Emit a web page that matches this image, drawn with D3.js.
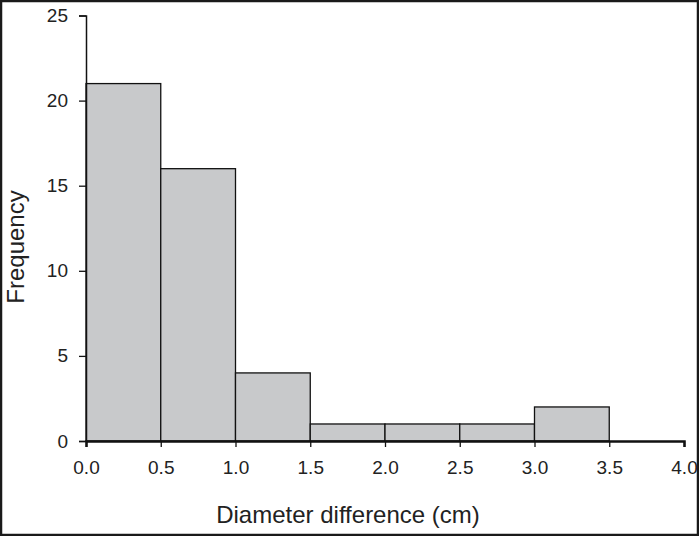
<!DOCTYPE html>
<html><head><meta charset="utf-8">
<script src="https://cdn.jsdelivr.net/npm/d3@7"></script>
<style>body{margin:0;background:#fff}svg{display:block}</style>
</head><body>
<script>
const binStarts = [0.0, 0.5, 1.0, 1.5, 2.0, 2.5, 3.0];
const binWidth = 0.5;
const frequencies = [21, 16, 4, 1, 1, 1, 2];
const xTicks = [0.0, 0.5, 1.0, 1.5, 2.0, 2.5, 3.0, 3.5, 4.0];
const yTicks = [0, 5, 10, 15, 20, 25];

const W = 699, H = 536;
const svg = d3.select("body").append("svg").attr("width", W).attr("height", H);
svg.append("rect").attr("x", 1).attr("y", 1).attr("width", W - 2).attr("height", H - 2)
  .attr("fill", "#fff").attr("stroke", "#1a1a1a").attr("stroke-width", 2.5);

const x = d3.scaleLinear().domain([0, 4]).range([86, 684]);
const y = d3.scaleLinear().domain([0, 25]).range([441, 15.5]);
const font = "'Liberation Sans', Arial, sans-serif";

svg.append("g").selectAll("rect").data(binStarts).join("rect")
  .attr("x", d => x(d)).attr("width", d => x(d + binWidth) - x(d))
  .attr("y", (d, i) => y(frequencies[i])).attr("height", (d, i) => y(0) - y(frequencies[i]))
  .attr("fill", "#c8c9cb").attr("stroke", "#111").attr("stroke-width", 1.3);

const xa = svg.append("g").attr("transform", `translate(0,${y(0)})`)
  .call(d3.axisBottom(x).tickValues(xTicks).tickFormat(d3.format(".1f")).tickSize(6).tickPadding(14));
const ya = svg.append("g").attr("transform", `translate(${x(0)},0)`)
  .call(d3.axisLeft(y).tickValues(yTicks).tickSize(7).tickPadding(11));
[xa, ya].forEach(a => {
  a.select(".domain").attr("stroke", "#111").attr("stroke-width", 1.5);
  a.selectAll(".tick line").attr("stroke", "#111").attr("stroke-width", 1.3);
  a.selectAll("text").attr("font-family", font).attr("font-size", 19).attr("fill", "#222");
});
xa.select(".domain").attr("stroke-width", 2.5);

svg.append("text").attr("x", 348).attr("y", 523).attr("text-anchor", "middle")
  .attr("font-family", font).attr("font-size", 24).attr("fill", "#222").text("Diameter difference (cm)");
svg.append("text").attr("transform", `translate(24,247) rotate(-90)`).attr("text-anchor", "middle")
  .attr("font-family", font).attr("font-size", 24).attr("fill", "#222").text("Frequency");
</script>
</body></html>
